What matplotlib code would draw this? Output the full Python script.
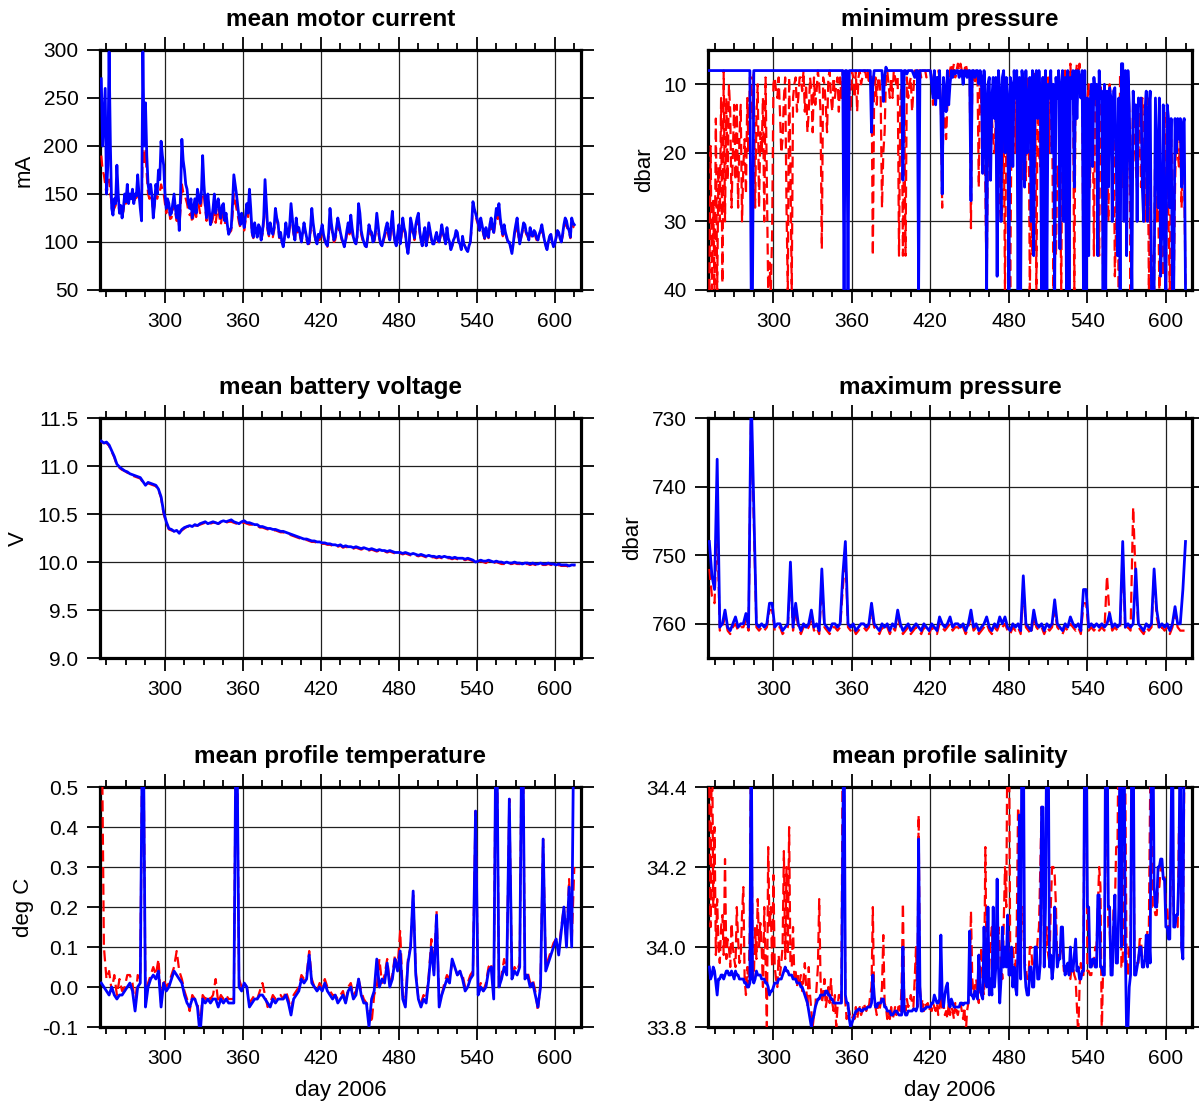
import numpy as np
import matplotlib
matplotlib.use("Agg")
import matplotlib.pyplot as plt
from matplotlib.ticker import FixedLocator, MultipleLocator, FormatStrFormatter

plt.rcParams['font.family'] = ['Liberation Sans', 'DejaVu Sans']

# profile days
DAYS1 = np.arange(251, 616)      # daily, 251 ... 615
DAYS2 = np.arange(251, 616, 2)   # every 2nd day, 251 ... 615

# ---------------- mean motor current (mA), daily ----------------
MOTOR_RED = [
    190, 175, 170, 160, 150, 158, 165, 150, 140, 132,
    135, 138, 150, 142, 130, 134, 128, 132, 145, 140,
    150, 142, 148, 144, 150, 140, 145, 146, 150, 145,
    140, 128, 215, 180, 195, 170, 150, 145, 150, 144,
    130, 138, 150, 145, 150, 152, 160, 155, 150, 140,
    130, 138, 135, 124, 125, 132, 140, 130, 122, 128,
    115, 135, 160, 152, 150, 145, 140, 132, 128, 130,
    120, 128, 135, 126, 140, 138, 130, 140, 160, 148,
    135, 122, 140, 128, 118, 120, 125, 138, 120, 130,
    135, 125, 118, 128, 135, 118, 125, 115, 110, 110,
    112, 128, 150, 142, 135, 128, 120, 115, 125, 118,
    112, 122, 130, 126, 140, 128, 108, 104, 115, 110,
    108, 112, 112, 102, 108, 120, 150, 132, 112, 106,
    118, 110, 105, 112, 125, 122, 118, 104, 108, 100,
    98, 104, 115, 108, 105, 115, 130, 120, 108, 102,
    120, 110, 112, 106, 100, 108, 115, 110, 102, 98,
    98, 110, 128, 115, 108, 100, 98, 104, 102, 108,
    112, 105, 100, 98, 95, 106, 125, 115, 108, 100,
    102, 110, 118, 112, 108, 102, 100, 96, 100, 108,
    115, 108, 120, 110, 103, 100, 98, 105, 130, 124,
    108, 102, 100, 96, 95, 103, 112, 108, 108, 100,
    100, 108, 122, 112, 103, 98, 96, 100, 105, 110,
    115, 106, 100, 112, 125, 108, 100, 96, 105, 112,
    98, 106, 118, 112, 108, 96, 90, 98, 118, 112,
    108, 102, 112, 118, 125, 110, 100, 96, 105, 110,
    96, 102, 115, 108, 102, 98, 98, 103, 108, 100,
    100, 105, 112, 108, 104, 98, 110, 102, 100, 94,
    96, 100, 103, 108, 108, 100, 98, 93, 104, 98,
    95, 93, 92, 96, 100, 114, 138, 132, 128, 122,
    118, 110, 120, 115, 108, 103, 112, 106, 104, 112,
    118, 112, 108, 118, 128, 124, 132, 120, 112, 106,
    115, 108, 104, 100, 100, 95, 92, 98, 108, 112,
    118, 106, 100, 104, 110, 115, 115, 108, 106, 102,
    112, 106, 105, 110, 106, 102, 102, 106, 110, 112,
    108, 102, 98, 94, 100, 104, 106, 100, 96, 98,
    104, 110, 108, 103, 100, 106, 114, 120, 118, 112,
    110, 104, 120, 116, 115]
MOTOR_BLUE = [
    270, 200, 230, 260, 150, 180, 298, 200, 135, 128,
    145, 140, 180, 150, 130, 138, 125, 135, 150, 142,
    160, 140, 150, 145, 155, 140, 150, 148, 170, 150,
    135, 122, 298, 200, 245, 190, 160, 150, 160, 148,
    125, 140, 160, 150, 175, 165, 205, 190, 180, 150,
    135, 145, 140, 128, 130, 140, 150, 135, 125, 138,
    112, 150, 207, 185, 175, 160, 155, 140, 135, 145,
    125, 135, 145, 130, 155, 148, 140, 150, 190, 160,
    140, 125, 150, 135, 118, 125, 135, 150, 130, 140,
    145, 132, 125, 138, 140, 122, 130, 118, 108, 112,
    115, 140, 170, 160, 150, 138, 125, 118, 130, 122,
    115, 128, 140, 130, 155, 135, 110, 105, 120, 112,
    105, 118, 115, 102, 110, 125, 165, 140, 115, 108,
    120, 112, 108, 115, 135, 125, 120, 105, 110, 100,
    95, 105, 120, 110, 105, 118, 140, 125, 110, 102,
    125, 112, 115, 108, 100, 110, 120, 112, 105, 98,
    100, 115, 135, 120, 110, 102, 98, 108, 105, 112,
    118, 108, 102, 98, 96, 110, 135, 120, 110, 102,
    105, 115, 125, 118, 110, 104, 100, 95, 102, 112,
    120, 110, 128, 115, 105, 100, 98, 108, 140, 130,
    112, 105, 100, 96, 95, 105, 118, 112, 110, 100,
    102, 112, 130, 118, 105, 98, 96, 102, 108, 115,
    120, 110, 102, 118, 132, 112, 100, 96, 108, 118,
    98, 110, 125, 115, 110, 96, 88, 100, 125, 118,
    110, 104, 118, 125, 130, 112, 102, 96, 108, 115,
    96, 105, 120, 112, 104, 98, 98, 105, 110, 102,
    100, 108, 118, 110, 105, 98, 115, 104, 100, 92,
    96, 102, 105, 112, 110, 100, 98, 92, 106, 98,
    95, 92, 90, 96, 100, 118, 142, 135, 130, 125,
    120, 112, 125, 118, 110, 104, 115, 108, 105, 118,
    125, 115, 110, 122, 135, 128, 140, 125, 115, 108,
    118, 110, 105, 100, 100, 94, 88, 98, 110, 118,
    125, 110, 98, 105, 112, 120, 118, 110, 108, 102,
    115, 108, 106, 112, 110, 104, 102, 108, 112, 118,
    110, 102, 96, 92, 100, 106, 108, 100, 95, 98,
    105, 112, 110, 104, 100, 108, 118, 125, 122, 115,
    112, 105, 125, 120, 118]

# ---------------- minimum pressure (dbar), daily ----------------
MINP_RED = [
    40, 19, 40, 27, 40, 15, 40, 22, 30, 12,
    39, 8, 30, 12, 24, 10, 14, 28, 20, 13,
    24, 13, 28, 18, 13, 30, 22, 18, 26, 12,
    20, 9, 9, 15, 8, 28, 15, 10, 28, 17,
    20, 12, 30, 9, 25, 40, 36, 40, 32, 10,
    9, 11, 12, 9, 14, 20, 18, 12, 9, 28,
    40, 9, 22, 40, 12, 10, 9, 14, 12, 9,
    9, 11, 8, 14, 10, 17, 14, 9, 11, 17,
    9, 13, 11, 8, 10, 14, 34, 9, 10, 13,
    17, 9, 8, 12, 14, 9, 12, 10, 9, 14,
    9, 12, 8, 10, 8, 13, 9, 11, 14, 8,
    9, 12, 8, 14, 9, 8, 10, 9, 8, 8,
    9, 8, 10, 8, 9, 35, 11, 9, 13, 9,
    9, 12, 28, 20, 17, 9, 8, 10, 12, 9,
    12, 8, 9, 10, 9, 35, 12, 10, 35, 14,
    35, 9, 12, 10, 9, 14, 11, 8, 9, 8,
    8, 8, 9, 8, 8, 8, 9, 8, 8, 8,
    9, 13, 11, 10, 12, 8, 9, 13, 28, 12,
    15, 18, 13, 9, 8, 7, 8, 7, 9, 8,
    7, 8, 7, 8, 9, 8, 7, 8, 9, 8,
    31, 9, 8, 10, 8, 9, 25, 8, 14, 12,
    14, 25, 40, 18, 22, 20, 15, 18, 20, 15,
    20, 16, 28, 30, 28, 12, 40, 15, 22, 20,
    40, 15, 18, 9, 20, 10, 15, 40, 9, 24,
    10, 15, 24, 9, 12, 40, 25, 35, 12, 8,
    40, 9, 20, 22, 12, 9, 12, 28, 15, 9,
    20, 9, 12, 40, 28, 35, 22, 25, 20, 40,
    10, 22, 8, 25, 9, 20, 7, 12, 9, 40,
    9, 7, 9, 7, 12, 9, 40, 25, 35, 12,
    10, 25, 13, 12, 35, 10, 12, 22, 35, 10,
    12, 40, 35, 14, 11, 30, 10, 12, 15, 12,
    38, 30, 20, 40, 8, 8, 25, 12, 14, 35,
    9, 14, 40, 22, 12, 18, 22, 25, 20, 14,
    25, 12, 20, 30, 14, 12, 40, 25, 40, 35,
    40, 13, 30, 25, 40, 28, 35, 38, 14, 40,
    16, 30, 40, 18, 22, 40, 25, 16, 20, 22,
    16, 28, 17, 22, 40]
MINP_BLUE = [
    8, 8, 8, 8, 8, 8, 8, 8, 8, 8,
    8, 8, 8, 8, 8, 8, 8, 8, 8, 8,
    8, 8, 8, 8, 8, 8, 8, 8, 8, 8,
    8, 8, 40, 40, 8, 8, 8, 8, 8, 8,
    8, 8, 8, 8, 8, 8, 8, 8, 8, 8,
    8, 8, 8, 8, 8, 8, 8, 8, 8, 8,
    8, 8, 8, 8, 8, 8, 8, 8, 8, 8,
    8, 8, 8, 8, 8, 8, 8, 8, 8, 8,
    8, 8, 8, 8, 8, 8, 8, 8, 8, 8,
    8, 8, 8, 8, 8, 8, 8, 8, 8, 8,
    8, 8, 8, 40, 8, 8, 40, 8, 8, 8,
    8, 8, 8, 8, 8, 8, 8, 8, 8, 8,
    8, 8, 8, 8, 17, 10, 8, 8, 8, 8,
    8, 8, 8, 12.5, 9, 7.5, 8, 8, 8, 8,
    8, 8, 8, 8, 8, 8, 8, 8, 24, 8,
    8, 8.5, 8, 8, 8, 8, 8.5, 9, 8, 8,
    40, 8, 8, 8, 8, 8, 8, 8, 8, 8,
    10, 12, 8, 13, 9, 12, 8, 14, 26, 9,
    11, 14, 8, 13, 10, 8, 9, 8, 8.5, 8,
    8, 9, 8, 8, 10, 8, 8, 9, 8, 8,
    27, 8, 8, 9, 8, 8, 10, 8, 9, 23,
    8, 12, 40, 10, 9, 24, 12, 9, 15, 9,
    38, 8, 11, 30, 9, 8, 20, 9, 12, 40,
    9, 10, 22, 8, 12, 8, 40, 9, 40, 8,
    10, 25, 8, 20, 12, 9, 30, 8, 35, 9,
    8, 15, 8, 12, 40, 9, 40, 8, 40, 10,
    12, 8, 20, 10, 40, 9, 12, 8, 34, 10,
    8, 30, 9, 40, 8, 40, 9, 12, 8, 25,
    8, 15, 8, 9, 12, 8, 40, 8, 40, 12,
    35, 13, 10, 22, 9, 12, 10, 35, 8, 12,
    11, 40, 10, 40, 11, 25, 10.5, 12, 30, 11,
    10.5, 20, 35, 12, 40, 7, 7, 30, 8, 35,
    8, 13, 25, 40, 11, 15, 13, 30, 12, 13,
    12, 25, 30, 14, 11, 30, 14, 11, 40, 40,
    40, 12, 20, 28, 12, 38, 30, 13, 35, 40,
    13, 15, 28, 15, 40, 40, 15, 20, 15, 18,
    15, 25, 16, 15, 40]

# ---------------- mean battery voltage (V), every 2nd day ----------------
VOLT_RED = [
    11.25, 11.24, 11.24, 11.21, 11.15, 11.09, 11.01, 10.98, 10.96, 10.95,
    10.93, 10.92, 10.90, 10.89, 10.88, 10.87, 10.83, 10.81, 10.82, 10.81,
    10.80, 10.79, 10.75, 10.67, 10.50, 10.41, 10.34, 10.33, 10.32, 10.32,
    10.31, 10.33, 10.35, 10.37, 10.37, 10.37, 10.38, 10.38, 10.39, 10.40,
    10.41, 10.40, 10.40, 10.41, 10.41, 10.40, 10.41, 10.42, 10.41, 10.42,
    10.42, 10.41, 10.40, 10.40, 10.41, 10.41, 10.40, 10.39, 10.39, 10.38,
    10.38, 10.36, 10.36, 10.35, 10.34, 10.34, 10.33, 10.33, 10.32, 10.31,
    10.31, 10.30, 10.29, 10.28, 10.27, 10.26, 10.25, 10.24, 10.23, 10.23,
    10.22, 10.21, 10.21, 10.20, 10.20, 10.19, 10.19, 10.18, 10.18, 10.17,
    10.17, 10.16, 10.17, 10.15, 10.16, 10.15, 10.15, 10.14, 10.15, 10.14,
    10.13, 10.14, 10.13, 10.12, 10.13, 10.12, 10.11, 10.12, 10.11, 10.11,
    10.10, 10.11, 10.10, 10.09, 10.09, 10.09, 10.08, 10.09, 10.08, 10.07,
    10.08, 10.07, 10.06, 10.07, 10.06, 10.05, 10.06, 10.05, 10.05, 10.04,
    10.05, 10.04, 10.05, 10.04, 10.04, 10.03, 10.04, 10.03, 10.03, 10.03,
    10.02, 10.03, 10.02, 10.01, 9.99, 10.00, 10.01, 10.00, 9.99, 10.01,
    10.00, 9.99, 10.00, 9.99, 9.98, 9.98, 9.99, 9.98, 9.98, 9.99,
    9.98, 9.98, 9.97, 9.98, 9.98, 9.97, 9.98, 9.97, 9.97, 9.98,
    9.97, 9.97, 9.98, 9.97, 9.97, 9.96, 9.97, 9.96, 9.96, 9.96,
    9.95, 9.96, 9.96]
VOLT_BLUE = [
    11.26, 11.24, 11.25, 11.22, 11.16, 11.10, 11.02, 10.99, 10.97, 10.95,
    10.94, 10.92, 10.91, 10.90, 10.89, 10.88, 10.84, 10.80, 10.83, 10.82,
    10.81, 10.80, 10.76, 10.68, 10.52, 10.42, 10.35, 10.34, 10.32, 10.33,
    10.30, 10.34, 10.36, 10.37, 10.38, 10.37, 10.39, 10.38, 10.40, 10.41,
    10.42, 10.40, 10.41, 10.42, 10.41, 10.40, 10.42, 10.43, 10.42, 10.43,
    10.44, 10.42, 10.41, 10.40, 10.42, 10.43, 10.41, 10.41, 10.40, 10.39,
    10.39, 10.37, 10.37, 10.36, 10.35, 10.35, 10.34, 10.34, 10.33, 10.32,
    10.32, 10.31, 10.30, 10.29, 10.28, 10.27, 10.26, 10.25, 10.24, 10.24,
    10.23, 10.22, 10.22, 10.21, 10.21, 10.20, 10.20, 10.19, 10.19, 10.18,
    10.18, 10.17, 10.18, 10.16, 10.17, 10.16, 10.16, 10.15, 10.16, 10.15,
    10.14, 10.15, 10.14, 10.13, 10.14, 10.13, 10.12, 10.13, 10.12, 10.12,
    10.11, 10.12, 10.11, 10.10, 10.10, 10.10, 10.09, 10.10, 10.09, 10.08,
    10.09, 10.08, 10.07, 10.08, 10.07, 10.06, 10.07, 10.06, 10.06, 10.05,
    10.06, 10.05, 10.06, 10.05, 10.05, 10.04, 10.05, 10.04, 10.04, 10.04,
    10.03, 10.04, 10.03, 10.02, 10.00, 10.01, 10.02, 10.01, 10.01, 10.02,
    10.01, 10.00, 10.01, 10.00, 10.00, 9.99, 10.00, 9.99, 9.99, 10.00,
    9.99, 9.99, 9.98, 9.99, 9.99, 9.98, 9.99, 9.98, 9.98, 9.99,
    9.98, 9.98, 9.99, 9.98, 9.98, 9.97, 9.98, 9.97, 9.97, 9.97,
    9.96, 9.97, 9.97]

# ---------------- maximum pressure (dbar), every 2nd day ----------------
MAXP_RED = [
    752, 756, 757, 745, 761, 760.5, 759, 761, 761.5, 760.5,
    760, 761, 760.5, 760.5, 759.5, 761, 728, 745, 760.5, 761,
    760.5, 761, 760.5, 758, 758, 761, 760.5, 760.5, 761.5, 761,
    760.5, 753, 761, 758, 760.5, 761.5, 760.5, 761, 760.5, 759,
    761, 760.5, 761.5, 754, 760.5, 761, 761.5, 760.5, 760.5, 761,
    760.5, 755, 750, 760.5, 761, 760.5, 761.5, 761, 760.5, 760.5,
    761, 760.5, 758, 760.5, 761, 761.5, 760.5, 761, 760.5, 761.5,
    760.5, 761, 759, 760.5, 761.5, 761, 760.5, 761.5, 761, 760.5,
    761, 761.5, 760.5, 761, 761.5, 760.5, 761, 761.5, 760, 760.5,
    761, 760.5, 760, 761, 760.5, 760.5, 761, 760.5, 761.5, 760.5,
    759, 761, 760.5, 761.5, 761, 760.5, 760, 761, 761.5, 760.5,
    761, 760, 760.5, 760, 761, 761.5, 760.5, 761, 760.5, 761.5,
    755, 760.5, 761, 761.5, 759, 760.5, 761, 760.5, 761.5, 760.5,
    761, 760.5, 758, 760.5, 761, 761.5, 760.5, 761, 760, 760.5,
    761, 760.5, 761.5, 757, 757, 761, 760.5, 761, 760.5, 761,
    760.5, 761, 753, 759, 761, 760.5, 761, 760.5, 750, 761,
    760.5, 761, 743, 754, 760.5, 761, 761.5, 760.5, 761, 760.5,
    753, 759, 761, 760.5, 761, 760.5, 761.5, 760.5, 758.5, 760.5,
    761, 761, 761]
MAXP_BLUE = [
    748, 753, 755, 736, 760.5, 760, 758, 760.5, 761, 760,
    759, 760.5, 760, 760, 758.5, 760.5, 726, 743, 760, 760.5,
    760, 760.5, 760, 757, 757, 760.5, 760, 760, 761, 760.5,
    760, 751, 760.5, 757, 760, 761, 760, 760.5, 760, 758,
    760.5, 760, 761, 752, 760, 760.5, 761, 760, 760, 760.5,
    760, 753, 748, 760, 760.5, 760, 761, 760.5, 760, 760,
    760.5, 760, 757, 760, 760.5, 761, 760, 760.5, 760, 761,
    760, 760.5, 758, 760, 761, 760.5, 760, 761, 760.5, 760,
    760.5, 761, 760, 760.5, 761, 760, 760.5, 761, 759, 760,
    760.5, 760, 759, 760.5, 760, 760, 760.5, 760, 761, 760,
    758, 760.5, 760, 761, 760.5, 760, 759, 760.5, 761, 760,
    760.5, 759, 760, 759, 760.5, 761, 760, 760.5, 760, 761,
    753, 760, 760.5, 761, 758, 760, 760.5, 760, 761, 760,
    760.5, 760, 756.5, 760, 760.5, 761, 760, 760.5, 759, 760,
    760.5, 760, 761, 755, 755, 760.5, 760, 760.5, 760, 760.5,
    760, 760.5, 760, 758.5, 760.5, 760, 760.5, 760, 748, 760.5,
    760, 760.5, 760, 752, 760, 760.5, 761, 760, 760.5, 760,
    752, 758, 760.5, 760, 760.5, 760, 761, 760, 757.5, 760,
    760, 755, 748]

# ---------------- mean profile temperature (deg C), every 2nd day ----------------
TEMP_RED = [
    0.80, 0.10, 0.02, 0.04, -0.01, 0.03, -0.02, 0.02, -0.01, 0.00,
    0.03, 0.03, 0.01, -0.05, 0.03, 0.02, 0.80, -0.03, 0.01, 0.03,
    0.05, 0.03, 0.07, -0.04, 0.02, 0.00, 0.01, 0.03, 0.05, 0.09,
    0.04, 0.02, -0.01, -0.03, -0.06, -0.02, -0.03, -0.04, -0.10, -0.02,
    -0.03, -0.02, -0.03, -0.02, 0.02, -0.04, -0.02, -0.03, -0.02, -0.03,
    -0.03, -0.03, 0.80, 0.02, 0.00, 0.01, 0.00, -0.04, -0.03, -0.02,
    -0.03, -0.01, 0.01, -0.02, -0.05, -0.04, -0.02, -0.03, -0.02, -0.02,
    -0.03, -0.01, -0.03, -0.06, -0.02, -0.01, 0.00, 0.03, 0.02, 0.03,
    0.09, 0.02, 0.00, -0.01, 0.01, 0.00, 0.02, 0.00, -0.01, -0.02,
    -0.02, -0.03, -0.02, -0.01, -0.04, 0.00, 0.01, -0.02, -0.01, 0.02,
    -0.01, -0.03, -0.04, -0.05, -0.09, -0.02, 0.00, 0.07, 0.01, 0.03,
    0.07, 0.01, 0.03, 0.08, 0.05, 0.14, -0.02, -0.04, 0.07, 0.10,
    0.23, 0.04, -0.03, -0.04, -0.02, -0.03, 0.03, 0.12, 0.04, 0.19,
    -0.04, -0.02, 0.01, 0.03, 0.02, 0.06, 0.05, 0.03, 0.04, 0.03,
    0.00, 0.01, 0.03, 0.04, 0.44, -0.01, 0.01, -0.01, 0.01, 0.05,
    0.06, -0.02, 0.80, 0.00, 0.03, 0.07, 0.04, 0.47, 0.03, 0.05,
    0.04, 0.06, 0.80, 0.03, 0.04, 0.01, 0.02, -0.01, -0.06, 0.01,
    0.37, 0.05, 0.07, 0.09, 0.11, 0.12, 0.09, 0.15, 0.20, 0.11,
    0.27, 0.11, 0.30]
TEMP_BLUE = [
    0.01, 0.00, -0.01, -0.02, 0.00, -0.02, -0.03, -0.02, -0.02, -0.01,
    0.00, 0.01, -0.01, -0.06, 0.00, 0.01, 0.80, -0.05, 0.00, 0.02,
    0.03, 0.02, 0.04, -0.05, 0.01, -0.01, 0.00, 0.02, 0.04, 0.03,
    0.02, 0.01, -0.02, -0.04, -0.05, -0.03, -0.03, -0.05, -0.12, -0.03,
    -0.04, -0.03, -0.04, -0.03, -0.03, -0.05, -0.03, -0.04, -0.03, -0.04,
    -0.04, -0.04, 0.80, 0.00, -0.01, 0.01, 0.00, -0.05, -0.04, -0.03,
    -0.03, -0.02, -0.02, -0.03, -0.04, -0.05, -0.03, -0.04, -0.03, -0.03,
    -0.03, -0.02, -0.04, -0.07, -0.03, -0.02, -0.01, 0.02, 0.01, 0.02,
    0.08, 0.01, 0.00, -0.01, 0.00, -0.01, 0.01, -0.01, -0.02, -0.03,
    -0.02, -0.04, -0.03, -0.02, -0.04, -0.01, 0.00, -0.03, -0.02, 0.02,
    -0.02, -0.04, -0.04, -0.10, -0.03, -0.01, 0.07, 0.00, 0.02, 0.01,
    0.06, 0.00, 0.02, 0.07, 0.04, 0.09, -0.03, -0.05, 0.06, 0.10,
    0.24, 0.03, -0.03, -0.05, -0.03, -0.04, 0.02, 0.10, 0.03, 0.18,
    -0.05, -0.02, 0.00, 0.02, 0.01, 0.07, 0.05, 0.03, 0.04, 0.02,
    -0.01, 0.00, 0.02, 0.03, 0.44, -0.02, 0.00, -0.01, 0.00, 0.04,
    0.05, -0.03, 0.80, 0.00, 0.02, 0.05, 0.03, 0.47, 0.02, 0.04,
    0.03, 0.05, 0.80, 0.02, 0.03, 0.00, 0.01, -0.02, -0.05, 0.00,
    0.37, 0.04, 0.06, 0.08, 0.10, 0.12, 0.08, 0.14, 0.20, 0.10,
    0.25, 0.10, 0.80]

# ---------------- mean profile salinity, daily ----------------
SAL_RED = [
    34.40, 34.05, 34.60, 34.10, 34.30, 33.98, 34.12, 34.00, 33.96, 34.05,
    34.08, 33.98, 34.22, 33.97, 34.02, 34.00, 33.95, 34.06, 34.00, 33.97,
    33.95, 34.10, 34.02, 33.96, 33.97, 34.08, 34.15, 33.92, 33.88, 33.95,
    33.90, 34.05, 34.60, 33.95, 33.92, 34.05, 33.97, 34.12, 34.00, 34.06,
    34.00, 33.90, 34.10, 33.96, 33.80, 34.25, 34.05, 34.10, 33.95, 34.18,
    33.95, 33.92, 33.90, 33.98, 33.93, 33.96, 34.00, 34.24, 33.97, 34.20,
    33.98, 34.30, 33.96, 33.95, 34.05, 33.92, 33.94, 33.90, 33.93, 33.91,
    33.93, 33.89, 33.92, 33.96, 33.90, 33.85, 33.95, 33.88, 33.84, 33.80,
    33.83, 33.85, 33.90, 33.95, 34.12, 33.92, 33.86, 33.88, 33.92, 33.85,
    33.87, 33.90, 33.86, 33.92, 33.86, 33.84, 33.88, 33.80, 33.85, 33.88,
    33.88, 33.86, 34.60, 34.40, 33.86, 33.82, 33.85, 33.84, 33.82, 33.82,
    33.83, 33.82, 33.85, 33.82, 33.84, 33.85, 33.83, 33.84, 33.86, 33.85,
    33.84, 33.86, 33.85, 33.88, 33.90, 34.10, 33.86, 33.85, 33.83, 33.86,
    33.84, 33.86, 33.90, 34.03, 33.86, 33.85, 33.82, 33.84, 33.82, 33.85,
    33.82, 33.83, 33.85, 33.83, 33.84, 33.86, 33.84, 33.90, 34.11, 33.86,
    33.84, 33.87, 33.85, 33.86, 33.88, 33.86, 33.85, 33.92, 34.00, 33.85,
    34.33, 33.90, 33.85, 33.87, 33.84, 33.86, 33.85, 33.86, 33.84, 33.85,
    33.84, 33.86, 33.85, 33.84, 33.86, 33.83, 33.85, 33.88, 33.84, 33.86,
    33.83, 33.84, 33.82, 33.86, 33.83, 33.85, 33.84, 33.82, 33.86, 33.84,
    33.83, 33.85, 33.86, 33.84, 33.82, 33.85, 33.78, 33.84, 33.86, 33.92,
    34.09, 33.92, 33.88, 33.90, 33.92, 33.88, 33.86, 33.95, 34.00, 33.90,
    33.88, 34.25, 33.92, 33.90, 33.95, 34.02, 34.05, 33.95, 33.92, 34.00,
    33.95, 34.05, 34.00, 33.95, 33.92, 34.05, 34.20, 34.10, 34.60, 34.60,
    33.98, 34.00, 34.00, 33.96, 33.95, 34.05, 34.35, 34.30, 33.97, 34.10,
    34.10, 33.96, 33.95, 33.92, 33.92, 34.00, 34.00, 33.95, 33.95, 33.97,
    33.97, 34.02, 34.05, 34.20, 34.35, 34.30, 33.95, 34.00, 34.05, 33.98,
    33.96, 34.10, 34.20, 34.20, 34.18, 34.10, 33.95, 33.98, 33.98, 34.00,
    34.00, 33.94, 33.94, 33.96, 33.96, 33.92, 33.92, 33.95, 33.95, 33.93,
    33.92, 33.85, 33.78, 33.90, 33.96, 33.93, 33.93, 34.60, 34.60, 33.94,
    33.94, 33.93, 33.93, 33.96, 33.96, 34.00, 34.00, 34.10, 34.20, 34.15,
    33.78, 33.95, 33.95, 34.40, 34.40, 34.05, 34.05, 33.95, 33.95, 34.10,
    34.10, 34.25, 34.25, 34.60, 34.60, 33.95, 33.95, 34.40, 34.40, 33.93,
    33.93, 34.00, 34.00, 34.40, 34.40, 33.97, 33.97, 33.96, 33.96, 34.02,
    34.02, 33.95, 33.95, 33.98, 33.98, 34.05, 34.05, 34.40, 34.40, 34.10,
    34.10, 34.08, 34.08, 34.15, 34.15, 34.20, 34.20, 34.18, 34.18, 34.10,
    34.10, 34.05, 34.05, 34.25, 34.25, 34.08, 34.08, 34.05, 34.05, 34.30,
    34.30, 34.00, 34.00, 34.40, 34.40]
SAL_BLUE = [
    33.95, 33.92, 33.93, 33.95, 33.94, 33.91, 33.88, 33.92, 33.92, 33.93,
    33.93, 33.92, 33.93, 33.94, 33.94, 33.93, 33.93, 33.94, 33.93, 33.92,
    33.94, 33.93, 33.93, 33.92, 33.92, 33.92, 33.92, 33.91, 33.91, 33.90,
    33.90, 33.91, 34.60, 33.92, 33.91, 33.92, 33.94, 33.93, 33.93, 33.93,
    33.92, 33.92, 33.92, 33.91, 33.91, 33.90, 33.88, 33.89, 33.89, 33.90,
    33.91, 33.91, 33.91, 33.92, 33.92, 33.92, 33.93, 33.94, 33.95, 33.94,
    33.94, 33.93, 33.93, 33.93, 33.92, 33.92, 33.92, 33.91, 33.91, 33.91,
    33.90, 33.90, 33.89, 33.88, 33.87, 33.86, 33.84, 33.82, 33.80, 33.82,
    33.83, 33.85, 33.86, 33.87, 33.87, 33.88, 33.88, 33.88, 33.88, 33.89,
    33.89, 33.88, 33.88, 33.87, 33.87, 33.86, 33.86, 33.86, 33.86, 33.86,
    33.86, 33.86, 34.27, 34.60, 33.88, 33.86, 33.86, 33.82, 33.80, 33.81,
    33.82, 33.83, 33.84, 33.84, 33.845, 33.845, 33.84, 33.84, 33.845, 33.845,
    33.845, 33.85, 33.85, 33.85, 33.86, 33.93, 33.88, 33.85, 33.85, 33.86,
    33.86, 33.86, 33.87, 33.87, 33.85, 33.85, 33.84, 33.84, 33.84, 33.83,
    33.83, 33.835, 33.84, 33.84, 33.835, 33.83, 33.83, 33.83, 34.00, 33.84,
    33.83, 33.83, 33.84, 33.84, 33.84, 33.84, 33.845, 33.845, 33.84, 33.85,
    34.27, 33.90, 33.84, 33.84, 33.845, 33.845, 33.85, 33.85, 33.85, 33.85,
    33.86, 33.86, 33.88, 33.87, 33.86, 33.86, 33.87, 34.03, 33.88, 33.85,
    33.88, 33.90, 33.91, 33.86, 33.85, 33.87, 33.86, 33.85, 33.85, 33.85,
    33.85, 33.85, 33.86, 33.86, 33.855, 33.86, 33.86, 33.86, 33.86, 34.04,
    33.88, 33.88, 33.87, 33.89, 33.88, 33.87, 33.98, 33.90, 33.88, 33.87,
    34.05, 33.92, 33.90, 34.10, 33.88, 33.92, 33.88, 34.10, 33.90, 33.95,
    34.17, 33.95, 33.86, 33.92, 34.05, 33.95, 34.00, 33.95, 34.08, 33.93,
    33.93, 34.00, 33.90, 33.95, 33.90, 33.88, 34.00, 34.33, 33.92, 34.60,
    34.60, 33.95, 33.90, 33.88, 33.88, 33.95, 33.95, 33.90, 33.90, 34.00,
    34.00, 33.92, 33.92, 33.96, 34.35, 34.35, 33.95, 34.10, 34.60, 34.60,
    33.95, 33.98, 33.92, 33.95, 34.10, 34.02, 33.95, 33.97, 33.97, 34.05,
    34.05, 33.96, 33.93, 33.95, 33.96, 33.93, 34.00, 33.94, 33.94, 33.98,
    34.02, 33.94, 33.95, 33.92, 33.92, 33.94, 33.94, 34.60, 34.60, 34.10,
    34.10, 33.95, 33.95, 33.97, 33.97, 33.95, 33.95, 34.13, 34.13, 33.95,
    33.95, 33.93, 33.93, 34.60, 34.60, 34.10, 34.10, 33.93, 33.93, 34.05,
    34.13, 33.96, 33.96, 34.10, 34.60, 34.00, 34.60, 34.60, 34.00, 33.78,
    33.80, 33.90, 33.93, 34.60, 34.60, 33.93, 33.93, 33.95, 33.97, 34.00,
    34.00, 33.95, 33.95, 33.97, 34.03, 33.95, 34.03, 33.96, 34.60, 34.60,
    34.15, 34.10, 34.10, 34.20, 34.20, 34.22, 34.22, 34.17, 34.17, 34.05,
    34.05, 34.02, 34.02, 34.30, 34.60, 34.05, 34.05, 34.08, 34.08, 34.20,
    34.60, 34.00, 33.97, 34.60, 34.60]

XLIM = (250, 620)
X_MAJOR = [300, 360, 420, 480, 540, 600]

fig = plt.figure(figsize=(11.99, 11.06), dpi=100)

LEFT_X, LEFT_W = 0.0834, 0.4010
RIGHT_X, RIGHT_W = 0.5905, 0.4037
ROW_B = [0.7378, 0.4050, 0.0714]
H = 0.217

panels = [
    dict(pos=(LEFT_X, ROW_B[0], LEFT_W, H), title='mean motor current', ylabel='mA', days=DAYS1,
         red=MOTOR_RED, blue=MOTOR_BLUE, ylim=(50, 300), yticks=[50, 100, 150, 200, 250, 300], fmt='%d'),
    dict(pos=(RIGHT_X, ROW_B[0], RIGHT_W, H), title='minimum pressure', ylabel='dbar', days=DAYS1,
         red=MINP_RED, blue=MINP_BLUE, ylim=(40, 5), yticks=[10, 20, 30, 40], fmt='%d'),
    dict(pos=(LEFT_X, ROW_B[1], LEFT_W, H), title='mean battery voltage', ylabel='V', days=DAYS2,
         red=VOLT_RED, blue=VOLT_BLUE, ylim=(9.0, 11.5), yticks=[9.0, 9.5, 10.0, 10.5, 11.0, 11.5], fmt='%.1f'),
    dict(pos=(RIGHT_X, ROW_B[1], RIGHT_W, H), title='maximum pressure', ylabel='dbar', days=DAYS2,
         red=MAXP_RED, blue=MAXP_BLUE, ylim=(765, 730), yticks=[730, 740, 750, 760], fmt='%d'),
    dict(pos=(LEFT_X, ROW_B[2], LEFT_W, H), title='mean profile temperature', ylabel='deg C', days=DAYS2,
         red=TEMP_RED, blue=TEMP_BLUE, ylim=(-0.1, 0.5), yticks=[-0.1, 0.0, 0.1, 0.2, 0.3, 0.4, 0.5], fmt='%.1f',
         xlabel='day 2006'),
    dict(pos=(RIGHT_X, ROW_B[2], RIGHT_W, H), title='mean profile salinity', ylabel='', days=DAYS1,
         red=SAL_RED, blue=SAL_BLUE, ylim=(33.8, 34.4), yticks=[33.8, 34.0, 34.2, 34.4], fmt='%.1f',
         xlabel='day 2006'),
]

for p in panels:
    ax = fig.add_axes(p['pos'])
    d = p['days']
    n_r = min(len(d), len(p['red']))
    n_b = min(len(d), len(p['blue']))
    ax.plot(d[:n_r], p['red'][:n_r], color='#ff0000', lw=1.6, dashes=(5, 2.5), zorder=3)
    ax.plot(d[:n_b], p['blue'][:n_b], color='#0000ff', lw=2.0, zorder=4)
    ax.set_xlim(*XLIM)
    ax.set_ylim(*p['ylim'])
    ax.xaxis.set_major_locator(FixedLocator(X_MAJOR))
    ax.xaxis.set_minor_locator(MultipleLocator(15))
    ax.yaxis.set_major_locator(FixedLocator(p['yticks']))
    ax.yaxis.set_major_formatter(FormatStrFormatter(p['fmt']))
    ax.grid(True, which='major', color='#202020', lw=0.9)
    ax.set_axisbelow(True)
    for s in ax.spines.values():
        s.set_linewidth(2.3)
    ax.tick_params(which='major', direction='out', length=9.5, width=1.3,
                   top=True, right=True, labelsize=15, pad=6)
    ax.tick_params(axis='x', which='minor', direction='out', length=5, width=1.3,
                   top=True, bottom=True)
    ax.tick_params(axis='y', which='minor', left=False, right=False)
    ax.set_title(p['title'], fontsize=17.5, fontweight='bold', pad=17)
    if p['ylabel']:
        ax.set_ylabel(p['ylabel'], fontsize=16, labelpad=6)
    if p.get('xlabel'):
        ax.set_xlabel(p['xlabel'], fontsize=16, labelpad=9)

fig.savefig('out.png', dpi=100)
